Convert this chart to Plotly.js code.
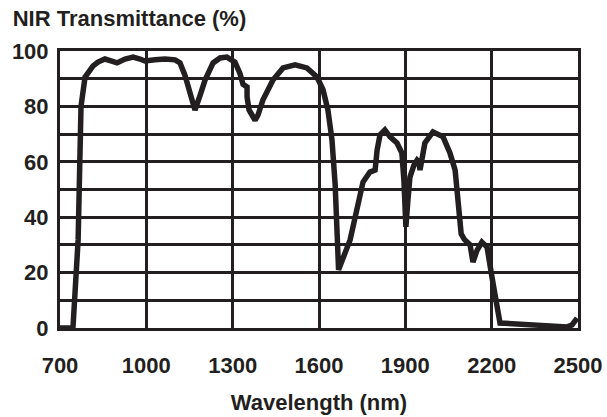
<!DOCTYPE html>
<html>
<head>
<meta charset="utf-8">
<script src="https://cdn.plot.ly/plotly-3.0.1.min.js"></script>
<style>html,body{margin:0;padding:0;background:#fff;}#chart{width:607px;height:417px;}</style>
</head>
<body>
<div id="chart"></div>
<script>
var wavelength = [700,745,763,770,773,787,797,815,832,856,877,898,926,954,978,995,1030,1065,1100,1117,1134,1152,1169,1187,1204,1232,1256,1280,1308,1325,1336,1350,1350,1357,1378,1388,1405,1440,1475,1517,1558,1593,1614,1631,1645,1656,1663,1668,1708,1736,1753,1777,1795,1802,1812,1829,1847,1871,1888,1895,1902,1909,1916,1930,1941,1947,1951,1968,1996,2031,2055,2073,2080,2087,2094,2105,2125,2135,2149,2166,2184,2201,2219,2229,2462,2479,2497];
var transmittance = [0,0,31.8,69,80,90.6,92,94.6,96,97.1,96.4,95.7,97.1,97.8,97.1,96.4,96.8,97.1,96.8,95.7,91.3,85.2,78.7,84.1,89.5,95.7,97.5,97.8,96,92,88,87,83.4,78.7,75,76.9,82.3,89.5,93.9,95,93.9,90.6,86,78.7,68,52,35,21,31.8,45,52.7,56.3,57,64.3,69.7,71.5,69,66.8,63.2,53.4,36.5,46.2,54.5,58.8,60.6,60,57,66.8,70.8,69,63.2,57,50,40,34,32,30,23.8,28,31,29.2,18.4,6.5,1.8,0.4,1.1,3.6];
var xTicks = [700,1000,1300,1600,1900,2200,2500];
var yTicks = [0,20,40,60,80,100];

var ink = '#231f20';
var fnt = {family:'"Liberation Sans", Arial, sans-serif', size:22, color:ink, weight:'bold'};

var trace = {
  x: wavelength, y: transmittance, type:'scatter', mode:'lines',
  line:{color:ink, width:5.5, shape:'linear'}, hoverinfo:'skip'
};

var layout = {
  width:607, height:417,
  margin:{l:60, r:29, t:51, b:89},
  paper_bgcolor:'#fff', plot_bgcolor:'#fff',
  showlegend:false,
  font: fnt,
  title:{text:'<b>NIR Transmittance (%)</b>', font:fnt, x:0.021, xanchor:'left', xref:'container', y:0.955, yanchor:'middle', yref:'container'},
  xaxis:{
    range:[700,2500], tickvals:xTicks, ticktext:xTicks.map(String),
    showgrid:true, gridcolor:ink, gridwidth:3,
    showline:true, linecolor:ink, linewidth:3, mirror:true,
    zeroline:false, ticks:'', tickfont:fnt, ticklabelstandoff:16,
    title:{text:'<b>Wavelength (nm)</b>', font:fnt, standoff:18}
  },
  yaxis:{
    range:[0,100], tickvals:yTicks, ticktext:yTicks.map(String),
    showgrid:true, gridcolor:ink, gridwidth:3,
    minor:{dtick:10, tick0:0, showgrid:true, gridcolor:ink, gridwidth:3, ticks:''},
    showline:true, linecolor:ink, linewidth:3, mirror:true,
    zeroline:false, ticks:'', tickfont:fnt, ticklabelstandoff:4
  }
};

Plotly.newPlot('chart', [trace], layout, {staticPlot:true, displayModeBar:false});
</script>
</body>
</html>
